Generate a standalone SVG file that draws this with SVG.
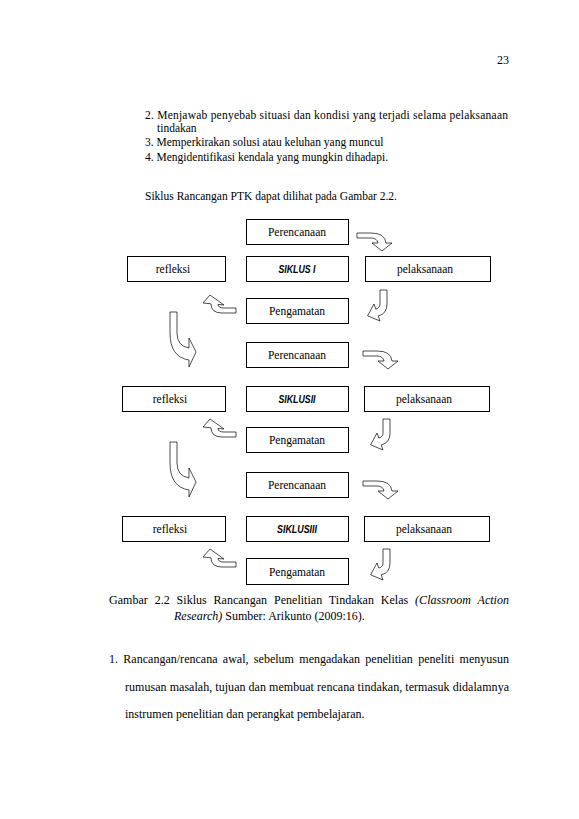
<svg xmlns="http://www.w3.org/2000/svg" width="579" height="819" viewBox="0 0 579 819">
<style>
.t{font-family:"Liberation Serif","Times New Roman",serif;font-size:12px;fill:#000}
.s{font-family:"Liberation Serif","Times New Roman",serif;font-size:11.5px;fill:#000}
.i{font-style:italic}
.box{fill:#fff;stroke:#000;stroke-width:1}
.lbl{font-family:"Liberation Serif","Times New Roman",serif;font-size:11.5px;text-anchor:middle;fill:#000}
.sik{font-family:"Liberation Sans",Arial,sans-serif;font-weight:bold;font-style:italic;font-size:11px;text-anchor:middle;fill:#000}
.arr{fill:#fff;stroke:#000;stroke-width:0.7;stroke-linejoin:miter}
</style>
<defs>
<path id="arA" d="M0,0 L14,0 Q28,0 29,10 L35,10 L25,18 L15,10 L21,10 Q20,5 14,5 L0,5 Z"/>
<path id="arB" d="M0,0 L7,0 L7,14 Q7,24 -1.8,25.9 L0,31 L-12.4,25.8 L-6,14 L-4.2,19.1 Q0,18 0,14 Z"/>
<path id="arC" d="M0,0 L-12,0 Q-18,0 -18,-3.6 L-12,-3 L-26,-13 L-33,-5 L-25,-4.2 Q-25,5 -14,5 L0,5 Z"/>
<path id="arD" d="M0,0 L7,0 L7,21 Q7,34 19,36 L19,26 L26,40 L19,55 L19,48 Q0,45 0,21 Z"/>
</defs>
<rect width="579" height="819" fill="#fff"/>

<g id="page-text">
<text class="t" x="509" y="64" text-anchor="end">23</text>
<text class="s" x="145" y="119" textLength="363" lengthAdjust="spacing">2. Menjawab penyebab situasi dan kondisi yang terjadi selama pelaksanaan</text>
<text class="s" x="157" y="132">tindakan</text>
<text class="s" x="145" y="146">3. Memperkirakan solusi atau keluhan yang muncul</text>
<text class="s" x="145" y="160.5">4. Mengidentifikasi kendala yang mungkin dihadapi.</text>
<text class="s" x="145" y="199.5">Siklus Rancangan PTK dapat dilihat pada Gambar 2.2.</text>
</g>

<g id="connectors">
<use href="#arA" class="arr" x="357" y="233"/>
<use href="#arB" class="arr" x="380" y="290"/>
<use href="#arC" class="arr" x="236" y="308"/>
<use href="#arD" class="arr" x="170" y="312"/>
<use href="#arA" class="arr" x="363" y="351"/>
<use href="#arB" class="arr" x="383" y="419"/>
<use href="#arC" class="arr" x="236" y="432"/>
<use href="#arD" class="arr" x="170" y="442"/>
<use href="#arA" class="arr" x="363" y="481"/>
<use href="#arB" class="arr" x="383" y="549"/>
<use href="#arC" class="arr" x="236" y="562"/>
</g>

<g id="perencanaan-1"><rect class="box" x="246.5" y="219.5" width="102" height="25"/><text class="lbl" x="297" y="236">Perencanaan</text></g>
<g id="refleksi-1"><rect class="box" x="127.5" y="256.5" width="98" height="25"/><text class="lbl" x="173" y="273">refleksi</text></g>
<g id="siklus-1"><rect class="box" x="246.5" y="256.5" width="102" height="25"/><text class="sik" x="297" y="273" textLength="37" lengthAdjust="spacingAndGlyphs">SIKLUS I</text></g>
<g id="pelaksanaan-1"><rect class="box" x="365.5" y="256.5" width="125" height="25"/><text class="lbl" x="425" y="273">pelaksanaan</text></g>
<g id="pengamatan-1"><rect class="box" x="246.5" y="298.5" width="102" height="25"/><text class="lbl" x="297" y="315">Pengamatan</text></g>

<g id="perencanaan-2"><rect class="box" x="246.5" y="342.5" width="102" height="25"/><text class="lbl" x="297" y="359">Perencanaan</text></g>
<g id="refleksi-2"><rect class="box" x="122.5" y="386.5" width="103" height="25"/><text class="lbl" x="170" y="403">refleksi</text></g>
<g id="siklus-2"><rect class="box" x="246.5" y="386.5" width="102" height="25"/><text class="sik" x="297" y="403" textLength="37" lengthAdjust="spacingAndGlyphs">SIKLUSII</text></g>
<g id="pelaksanaan-2"><rect class="box" x="364.5" y="386.5" width="125" height="25"/><text class="lbl" x="424" y="403">pelaksanaan</text></g>
<g id="pengamatan-2"><rect class="box" x="246.5" y="427.5" width="102" height="25"/><text class="lbl" x="297" y="444">Pengamatan</text></g>

<g id="perencanaan-3"><rect class="box" x="246.5" y="472.5" width="102" height="25"/><text class="lbl" x="297" y="489">Perencanaan</text></g>
<g id="refleksi-3"><rect class="box" x="122.5" y="516.5" width="103" height="25"/><text class="lbl" x="170" y="533">refleksi</text></g>
<g id="siklus-3"><rect class="box" x="246.5" y="516.5" width="102" height="25"/><text class="sik" x="297" y="533" textLength="40" lengthAdjust="spacingAndGlyphs">SIKLUSIII</text></g>
<g id="pelaksanaan-3"><rect class="box" x="364.5" y="516.5" width="125" height="25"/><text class="lbl" x="424" y="533">pelaksanaan</text></g>
<g id="pengamatan-3"><rect class="box" x="246.5" y="558.5" width="102" height="26"/><text class="lbl" x="297" y="575.5">Pengamatan</text></g>

<g id="caption">
<text class="t" x="109" y="604" word-spacing="3.8" textLength="400" lengthAdjust="spacing">Gambar 2.2 Siklus Rancangan Penelitian Tindakan Kelas <tspan class="i">(Classroom Action</tspan></text>
<text class="t" x="174" y="620"><tspan class="i">Research)</tspan> Sumber: Arikunto (2009:16).</text>
</g>

<g id="body-text">
<text class="t" x="109" y="663" word-spacing="2.3" textLength="400" lengthAdjust="spacing">1. Rancangan/rencana awal, sebelum mengadakan penelitian peneliti menyusun</text>
<text class="t" x="125" y="691" textLength="384" lengthAdjust="spacing">rumusan masalah, tujuan dan membuat rencana tindakan, termasuk didalamnya</text>
<text class="t" x="125" y="718">instrumen penelitian dan perangkat pembelajaran.</text>
</g>
</svg>
